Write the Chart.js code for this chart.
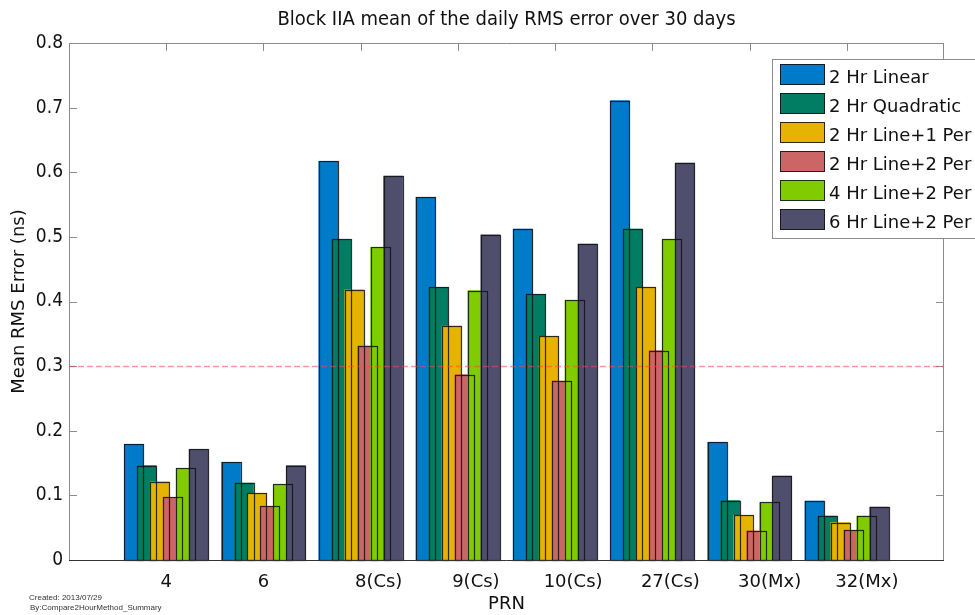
<!doctype html>
<meta charset="utf-8">
<title>Block IIA mean RMS error</title>
<style>
    body { margin: 0; background: #fff; }
    canvas { display: block; }
</style>
<body>
<canvas id="chart" width="975" height="615"></canvas>
<script src="https://cdn.jsdelivr.net/npm/chart.js@4.4.1/dist/chart.umd.min.js"></script>
<script>
    // PRN of each satellite and its clock type (blank when none is noted)
    const prn = ['4', '6', '8', '9', '10', '27', '30', '32'];
    const clockType = ['', '', 'Cs', 'Cs', 'Cs', 'Cs', 'Mx', 'Mx'];

    const methods = ['2 Hr Linear', '2 Hr Quadratic', '2 Hr Line+1 Per', '2 Hr Line+2 Per', '4 Hr Line+2 Per', '6 Hr Line+2 Per'];
    const colors = ['#007bc9', '#007d63', '#e5b300', '#cc6565', '#80cc00', '#4f4f6d'];

    // mean RMS error (ns) per PRN
    const linear2h   = [0.179, 0.151, 0.617, 0.561, 0.512, 0.711, 0.182, 0.091];
    const quad2h     = [0.146, 0.119, 0.496, 0.422, 0.411, 0.512, 0.092, 0.068];
    const line1per2h = [0.121, 0.103, 0.418, 0.362, 0.346, 0.422, 0.069, 0.058];
    const line2per2h = [0.097, 0.083, 0.331, 0.287, 0.277, 0.324, 0.045, 0.046];
    const line2per4h = [0.142, 0.117, 0.484, 0.417, 0.402, 0.496, 0.089, 0.068];
    const line2per6h = [0.171, 0.146, 0.594, 0.503, 0.489, 0.614, 0.130, 0.082];
    const series = [linear2h, quad2h, line1per2h, line2per2h, line2per4h, line2per6h];

    const threshold = 0.3;
    const yTicks = [0, 0.1, 0.2, 0.3, 0.4, 0.5, 0.6, 0.7, 0.8];
    const title = 'Block IIA mean of the daily RMS error over 30 days';

    const FONT = 'DejaVu Sans';
    const NARROW = '"DejaVu Sans Condensed", "DejaVu Sans"';
    Chart.defaults.font.family = FONT;
    Chart.defaults.color = '#111';

    // matlab style grouped bars: 0.8 wide group, bars overlap a little
    const groupWidth = 0.8;
    const step = groupWidth / series.length;

    const datasets = series.map((vals, k) => ({
        label: methods[k],
        backgroundColor: colors[k],
        borderWidth: 0,
        barThickness: 19,
        grouped: false,
        order: series.length - k,   // later series drawn on top
        data: vals.map((v, i) => ({ x: i + 1 + (k - (series.length - 1) / 2) * step, y: v })),
    }));

    const axesBox = {
        id: 'axesBox',
        beforeDatasetsDraw(chart) {
            const { ctx, chartArea: a, scales: { x, y } } = chart;
            ctx.save();
            ctx.lineWidth = 1;
            ctx.strokeStyle = '#8c8c8c';
            ctx.beginPath();
            ctx.moveTo(a.left + 0.5, a.bottom);
            ctx.lineTo(a.left + 0.5, a.top + 0.5);
            ctx.lineTo(a.right - 0.5, a.top + 0.5);
            ctx.lineTo(a.right - 0.5, a.bottom);
            yTicks.forEach(t => {
                const py = Math.round(y.getPixelForValue(t)) + 0.5;
                ctx.moveTo(a.left, py); ctx.lineTo(a.left + 8, py);
                ctx.moveTo(a.right, py); ctx.lineTo(a.right - 8, py);
            });
            prn.forEach((_, i) => {
                const px = Math.round(x.getPixelForValue(i + 1)) + 0.5;
                ctx.moveTo(px, a.top); ctx.lineTo(px, a.top + 8);
            });
            ctx.stroke();
            ctx.restore();
        },
        afterDatasetsDraw(chart) {
            const { ctx, chartArea: a, scales: { y } } = chart;
            ctx.save();
            // bar edges go over every face, so overlapped edges still show
            ctx.lineWidth = 1.2;
            ctx.strokeStyle = 'rgba(15,15,20,0.85)';
            chart.getSortedVisibleDatasetMetas().slice().reverse().forEach(meta => {
                meta.data.forEach(bar => {
                    const { x, y: top, base, width } = bar.getProps(['x', 'y', 'base', 'width'], true);
                    ctx.strokeRect(Math.round(x - width / 2) + 0.5, Math.round(top) + 0.5, Math.round(width), Math.round(base - top));
                });
            });
            // baseline
            ctx.lineWidth = 1;
            ctx.strokeStyle = '#333';
            ctx.beginPath();
            ctx.moveTo(a.left, a.bottom + 0.5);
            ctx.lineTo(a.right, a.bottom + 0.5);
            ctx.stroke();
            // threshold line
            const ty = Math.round(y.getPixelForValue(threshold)) + 0.5;
            ctx.strokeStyle = 'rgba(255,70,70,0.55)';
            ctx.lineWidth = 1.5;
            ctx.setLineDash([6, 3]);
            ctx.beginPath();
            ctx.moveTo(a.left, ty);
            ctx.lineTo(a.right, ty);
            ctx.stroke();
            ctx.restore();
        },
        afterDraw(chart) {
            const { ctx, chartArea: a, scales: { x } } = chart;
            ctx.save();
            // title centred over the axes
            ctx.font = '20px ' + NARROW;
            ctx.fillStyle = '#111';
            ctx.textAlign = 'center';
            ctx.textBaseline = 'middle';
            ctx.fillText(title, (a.left + a.right) / 2, 20);

            // PRN labels: number centred on the group, clock type hangs to the right
            ctx.font = '18px "' + FONT + '"';
            ctx.textBaseline = 'alphabetic';
            ctx.textAlign = 'left';
            prn.forEach((p, i) => {
                const px = x.getPixelForValue(i + 1);
                const w = ctx.measureText(p).width;
                ctx.fillText(p + (clockType[i] ? '(' + clockType[i] + ')' : ''), px - w / 2, a.bottom + 27);
            });

            // legend box
            const lx = 772, ly = 59, rowH = 29;
            ctx.fillStyle = '#fff';
            ctx.fillRect(lx, ly, 220, 179);
            ctx.strokeStyle = '#8c8c8c';
            ctx.lineWidth = 1;
            ctx.strokeRect(lx + 0.5, ly + 0.5, 220, 179);
            methods.forEach((m, k) => {
                const top = ly + 5 + k * rowH;
                ctx.fillStyle = colors[k];
                ctx.fillRect(lx + 8, top, 45, 21);
                ctx.strokeStyle = 'rgba(15,15,20,0.85)';
                ctx.strokeRect(lx + 8.5, top + 0.5, 44, 20);
                ctx.fillStyle = '#111';
                ctx.fillText(m, lx + 57, top + 19);
            });

            // footer note
            ctx.font = '8px "Liberation Sans"';
            ctx.fillStyle = '#333';
            ctx.fillText('Created: 2013/07/29', 29, 600);
            ctx.fillText('By:Compare2HourMethod_Summary', 30, 610);
            ctx.restore();
        },
    };

    new Chart(document.getElementById('chart'), {
        type: 'bar',
        data: { datasets },
        plugins: [axesBox],
        options: {
            responsive: false,
            animation: false,
            events: [],
            layout: { padding: { left: 0, right: 31, top: 43, bottom: 0 } },
            plugins: {
                legend: { display: false },
                tooltip: { enabled: false },
                title: { display: false },
            },
            scales: {
                x: {
                    type: 'linear',
                    min: 0,
                    max: prn.length + 1,
                    offset: false,
                    grid: { display: false, drawTicks: false },
                    border: { display: false },
                    ticks: { display: false },
                    title: { display: true, text: 'PRN', font: { size: 18 }, color: '#111', padding: { top: 0, bottom: 0 } },
                    afterFit: s => { s.height = 55; },
                },
                y: {
                    min: 0,
                    max: 0.8,
                    grid: { display: false, drawTicks: false },
                    border: { display: false },
                    afterBuildTicks: s => { s.ticks = yTicks.map(v => ({ value: v })); },
                    ticks: {
                        font: { size: 19, family: NARROW },
                        color: '#111',
                        padding: 6,
                        callback: v => String(Number(v.toFixed(1))),
                    },
                    title: { display: true, text: 'Mean RMS Error (ns)', font: { size: 18 }, color: '#111', padding: { top: 9, bottom: 0 } },
                    afterFit: s => { s.width = 69; },
                },
            },
        },
    });
</script>
</body>
